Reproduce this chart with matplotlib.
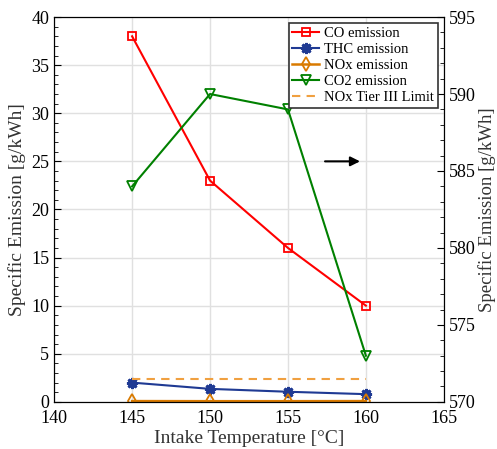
import numpy as np
from matplotlib import pyplot as plt
from matplotlib.ticker import MultipleLocator

plt.rcParams['font.family'] = ['Liberation Serif', 'DejaVu Serif']
plt.rcParams['mathtext.fontset'] = 'stix'

# Data
temp = [145, 150, 155, 160]          # intake temperature [C]
co = [38.0, 23.0, 16.0, 10.0]        # g/kWh
thc = [2.0, 1.35, 1.05, 0.8]
nox = [0.08, 0.07, 0.07, 0.08]
co2 = [584.0, 590.0, 589.0, 573.0]   # right axis
tier3 = [2.4, 2.4]                   # NOx Tier III limit
tier3_x = [145, 160]

fig = plt.figure(figsize=(4.97, 4.49), dpi=100)
ax = fig.add_axes([0.109, 0.105, 0.784, 0.857])
ax2 = ax.twinx()

l1, = ax.plot(temp, co, color='#ff0000', lw=1.5, marker='s', ms=6,
              mfc='none', mew=1.3, label='CO emission')
l2, = ax.plot(temp, thc, color='#1f3a93', lw=1.5, marker=(8, 2, 0), ms=8,
              mew=2.0, label='THC emission')
l3, = ax.plot(temp, nox, color='#d97a00', lw=1.8, marker='d', ms=7,
              mfc='none', mew=1.3, label='NOx emission')
l4, = ax2.plot(temp, co2, color='#008000', lw=1.5, marker='v', ms=7,
               mfc='none', mew=1.3, label='CO2 emission')
l5, = ax.plot(tier3_x, tier3, color='#f0a040', lw=1.5, ls=(0, (4, 3)),
              label='NOx Tier III Limit')

# arrow pointing to the right axis (CO2)
ax.annotate('', xy=(159.8, 25), xytext=(157.2, 25),
            arrowprops=dict(arrowstyle='-|>', color='black', lw=1.5,
                            mutation_scale=14))

ax.set_xlim(140, 165)
ax.set_ylim(0, 40)
ax2.set_ylim(570, 595)
ax.xaxis.set_major_locator(MultipleLocator(5))
ax.yaxis.set_major_locator(MultipleLocator(5))
ax.yaxis.set_minor_locator(MultipleLocator(1))
ax2.yaxis.set_major_locator(MultipleLocator(5))
ax2.yaxis.set_minor_locator(MultipleLocator(1))

ax.grid(True, color='#e0e0e0', lw=1.0)
ax.set_axisbelow(True)
ax.tick_params(which='both', direction='in', labelsize=13, top=False)
ax.tick_params(which='major', length=5)
ax.tick_params(which='minor', length=3)
ax2.tick_params(which='both', direction='in', labelsize=13)
ax2.tick_params(which='major', length=5)
ax2.tick_params(which='minor', length=3)
ax.tick_params(axis='x', which='major', length=0, pad=6)

ax.set_xlabel('Intake Temperature [°C]', fontsize=14, color='#333333',
              labelpad=2)
ax.set_ylabel('Specific Emission [g/kWh]', fontsize=14, color='#333333')
ax2.set_ylabel('Specific Emission [g/kWh]', fontsize=13.5, color='#333333',
               labelpad=2)

leg = ax2.legend(handles=[l1, l2, l3, l4, l5], loc='upper right',
                 fontsize=10.5, frameon=True, fancybox=False,
                 edgecolor='#333333', framealpha=1, borderaxespad=0.4,
                 handlelength=1.8, labelspacing=0.2, borderpad=0.25,
                 handletextpad=0.4)
leg.get_frame().set_linewidth(1.2)

plt.savefig('out.png', dpi=100)
